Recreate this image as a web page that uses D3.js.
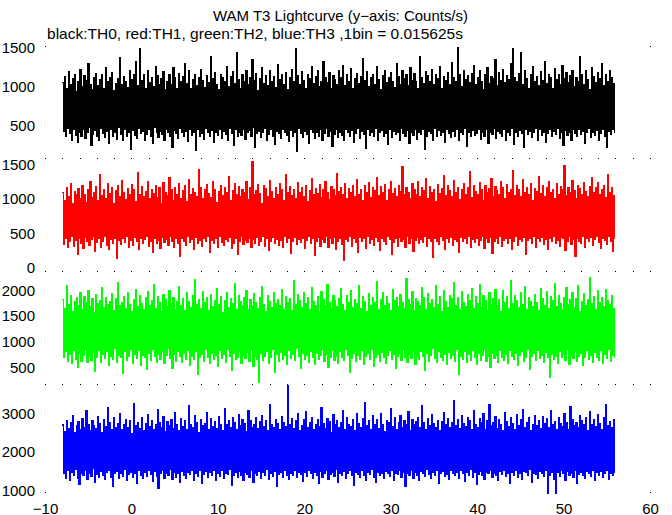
<!DOCTYPE html>
<html>
<head>
<meta charset="utf-8">
<script src="https://cdn.jsdelivr.net/npm/d3@7"></script>
<style>
html,body{margin:0;padding:0;background:#fff;}
svg{display:block;}
text{font-family:"Liberation Sans",Arial,Helvetica,sans-serif;fill:#000;}
</style>
</head>
<body>
<svg id="chart" width="672" height="515"></svg>
<script>
// ---------- data ----------
const titleText = "WAM T3 Lightcurve (y\u2212axis: Counts/s)";
const subtitleText = "black:TH0, red:TH1, green:TH2, blue:TH3 ,1bin = 0.015625s";
const timeRange = [-8, 56];
const xTicks = [-10, 0, 10, 20, 30, 40, 50, 60];
const seriesNames = ["TH0", "TH1", "TH2", "TH3"];
const seriesColors = ["#000000", "#ff0000", "#00ff00", "#0000ff"];

// counts/s, resampled envelope (alternating local max / local min)
const th0 = [
1040,420,1120,350,960,460,1180,390,1010,310,1090,440,1150,370,930,280,1060,410,1210,360,
990,450,1130,330,1070,400,1280,470,1020,240,950,380,1110,430,1160,350,1000,300,1080,460,
1140,390,970,340,1230,420,1050,270,1100,450,1170,360,940,410,1030,320,1090,470,1360,380,
1010,300,1120,440,1060,350,980,400,1190,190,1080,430,1140,370,1310,330,1000,460,1470,390,
1070,420,1150,310,960,380,1200,440,1040,350,1110,260,990,470,1250,400,1130,340,1020,420,
1090,380,1180,300,950,450,1060,410,1140,360,1010,220,1230,430,1100,390,970,330,1160,460,
1050,400,1120,350,1290,420,1030,290,1190,450,960,370,1080,410,1150,170,1000,440,1110,360,
1210,390,1070,320,980,460,1130,400,1040,350,1380,430,1090,280,1170,410,1020,370,950,450,
1140,330,1100,420,1060,380,1240,300,990,460,1120,390,1180,240,1030,440,1420,360,1080,410,
970,370,1150,450,1050,320,1200,400,1010,430,1110,350,1330,470,1070,210,1160,390,940,420,
1090,340,1230,410,1030,460,1130,300,1000,380,1190,440,1060,360,1120,250,980,420,1270,390,
1080,330,1140,450,1020,400,1170,370,950,290,1100,430,1210,350,1050,410,1470,160,1130,460,
1010,390,1180,340,1070,420,960,380,1150,270,1090,450,1240,410,1030,330,1120,400,1200,360,
990,440,1060,310,1310,390,1110,460,1040,350,1170,420,970,230,1130,380,1080,440,1020,340,
1190,410,1100,370,1260,300,1000,450,1140,400,1050,360,1220,430,960,280,1090,390,1160,460,
1030,330,1120,420,1350,380,1070,200,1180,440,990,370,1100,410,1150,350,1010,460,1250,310,
1080,400,950,430,1130,360,1200,390,1040,250,1110,450,1170,340,1060,420,980,380,1290,410,
1120,300,1020,460,1190,390,1090,350,1140,430,1000,270,1230,400,1070,370,1160,440,1050,320,
970,410,1380,380,1100,450,1030,190,1180,360,1130,420,1060,390,1210,300,1010,460,1150,350,
1090,430,1240,370,960,410,1120,280,1070,450,1170,390,1020,340,1300,420,1110,360,1050,440,
1490,310,1140,400,990,380,1200,460,1080,230,1130,410,1040,350,1160,430,1260,370,1010,390,
1100,450,1190,320,1060,400,950,360,1150,440,1230,270,1030,410,1120,380,1090,460,1340,330,
1000,420,1170,390,1070,350,1210,440,1040,300,1130,410,1080,370,1280,460,1480,250,1110,400,
1050,360,1160,430,1430,390,1020,210,1190,450,1090,380,970,420,1140,340,1240,400,1060,460,
1120,310,1000,440,1180,370,1070,410,1310,280,1030,390,1150,450,1100,350,960,420,1220,380,
1080,460,1140,330,1010,400,1260,240,1090,430,1170,370,1040,410,1130,300,1200,450,990,390,
1110,350,1060,440,1370,380,1150,420,1020,260,1190,400,1080,460,950,340,1230,410,1120,370,
1040,430,1170,310,1090,390,1280,450,1000,360,1140,220,1060,420,1200,380,1110,440,1030,400
];
const th1 = [
1080,330,970,410,1160,280,1030,370,1210,440,920,300,1100,390,1050,190,1140,420,990,350,
1190,270,1060,430,940,380,1120,310,1250,400,1010,440,1090,230,1170,360,960,410,1340,290,
1040,380,1130,440,1000,320,1220,260,1070,400,1150,350,930,420,1110,130,1180,390,1020,330,
1260,410,1090,360,980,440,1140,280,1050,390,1200,320,1120,430,950,370,1380,250,1060,410,
1170,340,1020,400,1100,450,1240,300,990,380,1130,210,1070,420,1190,350,1010,390,1150,270,
920,430,1230,360,1080,400,1040,320,1300,440,1120,380,970,290,1160,410,1060,350,1210,160,
1000,420,1110,380,1180,310,950,440,1270,360,1050,400,1140,250,1090,430,1030,340,1420,390,
1160,300,990,420,1120,370,1200,440,1070,220,1010,390,1250,350,1130,410,940,280,1100,440,
1190,360,1040,320,1150,400,1080,380,1320,430,960,270,1110,350,1220,410,1060,190,1170,380,
1020,440,1130,330,1090,390,1240,360,980,420,1160,280,1540,400,1050,350,1110,430,1200,310,
1070,370,930,440,1180,300,1140,410,1030,240,1260,380,1100,430,990,350,1150,400,1060,320,
1210,390,1120,280,970,440,1350,360,1080,410,1170,200,1040,380,1130,430,1000,330,1230,400,
1090,360,1160,420,1020,270,1190,390,950,440,1110,340,1280,410,1060,170,1140,380,1070,430,
1200,300,1010,400,1120,360,1250,440,1080,290,980,410,1170,350,1130,430,1040,250,1360,380,
1100,420,1160,330,1050,90,1220,400,990,370,1140,440,1090,300,1190,410,1030,360,1270,220,
1060,430,1120,380,960,410,1180,270,1080,440,1230,350,1010,400,1150,310,1110,430,1300,370,
1040,240,1170,420,1090,380,1200,330,970,440,1130,400,1250,190,1070,360,1140,410,1020,300,
1190,430,1100,370,1460,400,1050,280,1160,440,1080,350,990,410,1210,230,1120,390,1060,430,
1240,340,1030,400,1150,360,1110,440,1280,300,1000,410,1170,370,1090,140,1130,420,950,380,
1200,330,1070,440,1140,390,1330,260,1040,410,1180,360,1110,430,1020,310,1260,400,1090,380,
1160,220,980,430,1120,370,1220,410,1060,340,1150,440,1390,290,1010,400,1180,360,1100,420,
1050,320,1230,390,1130,440,970,270,1190,410,1080,360,1140,430,1290,200,1020,380,1170,410,
1110,350,1060,440,1250,300,1150,390,990,420,1200,340,1090,410,1130,250,1410,380,1040,440,
1180,310,1120,400,1020,370,1270,430,1080,180,1160,390,1050,420,1220,350,960,440,1140,290,
1100,410,1310,370,1070,430,1190,330,1030,400,1150,260,1240,420,1090,380,1130,440,1000,350,
1210,390,1060,300,1170,430,1120,410,1480,240,1040,370,1150,440,1080,330,1260,400,1110,160,
990,420,1190,380,1140,350,1050,440,1230,290,1100,410,1020,370,1170,430,1300,310,1080,400,
1150,440,1230,360,1060,270,1120,420,1190,390,1010,330,1350,440,1090,380,1160,230,1040,410
];
const th2 = [
1810,690,1640,790,2080,610,1720,740,1900,560,1580,820,1770,650,1850,480,1690,760,1940,600,
1620,720,1880,840,1750,580,1990,700,1670,630,1830,780,1560,410,1910,690,1730,820,1800,590,
2040,740,1650,660,1860,800,1710,530,1780,710,1930,640,1600,850,1840,580,2150,720,1690,680,
1760,370,1870,790,1630,620,1950,700,1720,840,1580,560,1820,740,2010,660,1680,810,1900,520,
1740,730,1610,680,1850,450,1960,770,1700,620,1790,830,2100,700,1640,590,1880,750,1760,640,
1570,800,1920,560,1810,720,1680,850,1990,670,1740,470,1860,740,1620,610,1780,790,2060,700,
1700,580,1830,760,1590,650,1940,820,1770,530,1650,700,1890,640,2200,790,1720,340,1810,680,
1630,740,1970,600,1750,830,1860,690,1600,560,1910,770,1680,640,1800,720,2030,500,1720,810,
1880,660,1560,740,1790,590,1950,830,1660,700,1840,430,1730,760,2120,640,1610,690,1900,800,
1770,570,1690,720,1850,660,1980,780,1620,610,1810,840,1700,500,1930,700,1750,650,1640,200,
1860,760,2070,620,1720,710,1580,800,1890,560,1780,690,1660,830,1950,380,1730,740,1820,600,
1690,780,2000,650,1610,720,1870,540,1760,810,1830,670,1590,750,2180,620,1710,850,1920,700,
1800,460,1650,770,1940,640,1740,720,1850,590,1620,800,2050,690,1780,550,1690,760,1880,650,
1570,720,1960,830,1820,600,1700,740,2110,480,1760,690,1630,810,1900,630,1800,710,1670,560,
1840,790,2020,680,1710,620,1600,840,1890,730,1750,390,1980,660,1660,770,1820,600,1730,720,
2090,650,1640,810,1870,550,1780,700,1580,760,1930,640,1700,830,1850,510,1760,690,2160,740,
1620,600,1810,780,1950,680,1690,560,1880,720,1740,820,1600,650,2000,740,1790,470,1860,700,
1680,770,1910,620,1750,840,1630,690,2230,580,1820,750,1710,660,1960,800,1590,540,1840,710,
1770,640,1690,790,2040,700,1860,420,1620,760,1930,610,1740,730,1810,850,1650,660,2080,580,
1720,800,1880,690,1570,620,1990,740,1780,540,1650,780,1900,660,1830,720,2140,610,1700,830,
1850,350,1610,710,1960,650,1750,790,1680,580,1920,740,1800,630,2030,820,1640,690,1870,550,
1730,760,2100,620,1660,730,1890,840,1790,600,1600,710,1950,480,1710,770,1840,660,2010,720,
1690,590,1820,810,1580,680,1980,630,1760,750,1870,560,1640,820,2190,700,1730,640,1900,760,
1800,530,1660,720,1940,790,1720,610,2060,680,1610,840,1850,440,1770,700,1680,760,1920,620,
1750,810,1590,660,2020,730,1830,580,1700,780,1960,690,1640,300,1880,750,1790,640,2120,710,
1670,570,1900,800,1740,680,1620,740,1860,620,2040,830,1710,550,1810,720,1950,660,1650,790,
1840,610,2080,700,1580,760,1770,520,1930,680,1690,820,1820,640,2250,730,1730,590,1870,780,
1620,690,1990,630,1760,810,1850,570,1680,740,2010,660,1790,830,1710,600,1900,720,1640,680
];
const th3 = [
2690,1420,2520,1310,2810,1500,2600,1240,2740,1460,2930,1380,2480,1530,2660,1290,2780,1150,2570,1440,
2850,1370,2630,1510,3050,1280,2710,1430,2540,1350,2800,1560,2670,1200,2590,1410,2900,1330,2720,1480,
2500,1390,2830,1270,2650,1450,3150,1520,2760,1340,2580,1100,2880,1420,2620,1490,2730,1300,2990,1440,
2560,1360,2700,1530,2840,1250,2610,1400,2790,1470,2470,1320,3250,1430,2680,1180,2750,1510,2600,1380,
2870,1290,2530,1450,2720,1350,2960,1520,2640,1410,2810,1230,2570,1480,2690,1360,3080,1050,2740,1440,
2620,1500,2900,1310,2510,1420,2770,1380,2680,1540,2830,1270,2590,1460,3020,1340,2710,1430,2550,1210,
2860,1490,2650,1370,2790,1310,2580,1450,3180,1400,2700,1520,2620,1260,2940,1430,2760,1350,2490,1500,
2820,1170,2670,1410,2730,1480,3000,1330,2560,1450,2850,1380,2640,1520,2780,1240,2600,1430,2910,1360,
2710,1500,2540,1290,3120,1440,2690,1400,2800,1530,2620,1130,2880,1370,2750,1460,2570,1320,2960,1490,
2660,1380,2840,1250,2730,1470,2520,1410,3060,1340,2790,1520,2610,1200,2700,1430,2870,1370,2590,1480,
2770,1310,2930,1450,2650,1390,2810,1540,2550,1280,3220,1420,2700,1350,2620,1490,2840,1090,2730,1400,
2580,1460,2900,1330,2760,1510,2640,1390,3720,1270,2710,1440,2850,1380,2600,1500,2790,1320,2980,1450,
2530,1400,2680,1230,2820,1470,3030,1360,2610,1520,2740,1420,2890,1290,2560,1450,2700,1380,2830,1160,
2650,1490,3140,1340,2720,1430,2590,1510,2860,1270,2780,1400,2500,1460,2950,1350,2690,1530,2810,1210,
2620,1420,2760,1380,3070,1480,2570,1300,2880,1440,2700,1520,2640,1370,2830,1120,2540,1460,2990,1410,
2730,1330,2610,1500,2850,1390,3260,1260,2680,1450,2790,1410,2560,1530,2920,1340,2710,1190,2840,1470,
2600,1380,2980,1440,2690,1300,2520,1490,2810,1420,2740,1360,3110,1510,2650,1250,2870,1430,2580,1400,
2760,1520,2920,1330,2630,1470,2800,1100,2710,1440,3040,1390,2550,1500,2840,1310,2690,1460,2770,1370,
2890,1240,2610,1480,3190,1420,2740,1350,2580,1530,2860,1400,2680,1290,2950,1450,2720,1380,2630,1510,
2810,1170,2540,1430,2770,1490,3000,1360,2700,1410,2850,1270,2620,1520,2760,1440,3330,1380,2670,1460,
2830,1300,2590,1500,2940,1420,2720,1230,2650,1470,2880,1390,2790,1530,2560,1340,3070,1450,2700,1150,
2620,1410,2860,1490,2740,1370,2980,1280,2570,1460,2810,1420,3230,1510,2680,1330,2750,1440,2900,1390,
2600,1250,2840,1480,2710,1410,2530,1520,3010,1360,2780,1430,2650,1180,2890,1470,2730,1390,2570,1500,
2950,1340,2680,1420,2820,1280,3100,1490,2610,1450,2760,1370,2870,1530,2540,1210,2700,1440,2930,1400,
2660,1310,2800,1480,2590,1420,2910,1360,2730,1500,2850,920,2630,1390,3060,1450,2690,1280,2780,900,
2560,1460,2880,1350,2720,1510,2640,1420,2990,1240,2760,1480,2580,1390,3170,1440,2830,1330,2670,1520,
2750,1170,2610,1410,2940,1470,2800,1380,2690,1300,2870,1490,2530,1430,3040,1360,2710,1520,2830,1250,
2650,1450,2960,1390,2720,1480,2580,1340,2890,1420,3210,1510,2670,1280,2780,1440,2620,1380,2840,1470
];

const yTicks0 = [500, 1000, 1500];
const yTicks1 = [0, 500, 1000, 1500];
const yTicks2 = [500, 1000, 1500, 2000];
const yTicks3 = [1000, 2000, 3000];
const yDomain0 = [79, 1509];
const yDomain1 = [-58, 1587];
const yDomain2 = [162, 2372];
const yDomain3 = [948, 3753];

// ---------- layout ----------
const svg = d3.select("#chart");
const xLeft = 45, xRight = 650;
const bounds = [46, 158, 271, 384, 492];

const x = d3.scaleLinear().domain([xTicks[0], xTicks[xTicks.length - 1]]).range([xLeft, xRight]);

const panels = [
  {values: th0, color: seriesColors[0], domain: yDomain0, ticks: yTicks0},
  {values: th1, color: seriesColors[1], domain: yDomain1, ticks: yTicks1},
  {values: th2, color: seriesColors[2], domain: yDomain2, ticks: yTicks2},
  {values: th3, color: seriesColors[3], domain: yDomain3, ticks: yTicks3}
];

// title
svg.append("text").attr("x", 213).attr("y", 21).attr("text-anchor", "start")
  .attr("textLength", 255).attr("lengthAdjust", "spacingAndGlyphs")
  .style("font-size", "14.5px").text(titleText);
svg.append("text").attr("x", 47).attr("y", 39).attr("text-anchor", "start")
  .attr("textLength", 416).attr("lengthAdjust", "spacingAndGlyphs")
  .style("font-size", "14.5px").text(subtitleText);

panels.forEach((p, k) => {
  const y = d3.scaleLinear().domain(p.domain).range([bounds[k + 1], bounds[k]]);
  const n = p.values.length;
  const dt = (timeRange[1] - timeRange[0]) / n;
  const pts = p.values.map((v, i) => [timeRange[0] + i * dt, v]);
  pts.push([timeRange[1], p.values[n - 1]]);
  const line = d3.line().x(d => x(d[0])).y(d => y(d[1])).curve(d3.curveStepAfter);
  svg.append("path").attr("d", line(pts)).attr("fill", "none")
    .attr("stroke", p.color).attr("stroke-width", 1.2)
    .attr("shape-rendering", "crispEdges");

  // y axis labels
  const ax = d3.axisLeft(y).tickValues(p.ticks).tickSize(0).tickPadding(0)
    .tickFormat(d3.format("d"));
  const g = svg.append("g").attr("transform", `translate(${xLeft - 10},0)`).call(ax);
  g.select(".domain").remove();
  g.selectAll("text").attr("font-family", null).attr("font-size", null)
    .style("font-size", "15px").attr("dy", "0.36em");
});

// dotted frame marks (minor ticks) on panel boundaries
const minor = d3.range(xTicks[0], xTicks[xTicks.length - 1] + 0.001, 2);
[bounds[1], bounds[2], bounds[3]].forEach(by => {
  svg.append("g").selectAll("rect").data(minor).join("rect")
    .attr("x", d => Math.round(x(d))).attr("y", by).attr("width", 1).attr("height", 1)
    .attr("fill", "#000").attr("shape-rendering", "crispEdges");
});
bounds.forEach(by => {
  [xLeft, xRight].forEach(bx => {
    svg.append("rect").attr("x", bx).attr("y", by).attr("width", 1).attr("height", 1)
      .attr("fill", "#000").attr("shape-rendering", "crispEdges");
  });
});

// x axis labels
const xa = d3.axisBottom(x).tickValues(xTicks).tickSize(0).tickPadding(0)
  .tickFormat(d => d < 0 ? "\u2212" + Math.abs(d) : String(d));
const gx = svg.append("g").attr("transform", "translate(0,500)").call(xa);
gx.select(".domain").remove();
gx.selectAll("text").attr("font-family", null).attr("font-size", null)
  .style("font-size", "15px").attr("dy", "0.9em");
</script>
</body>
</html>
